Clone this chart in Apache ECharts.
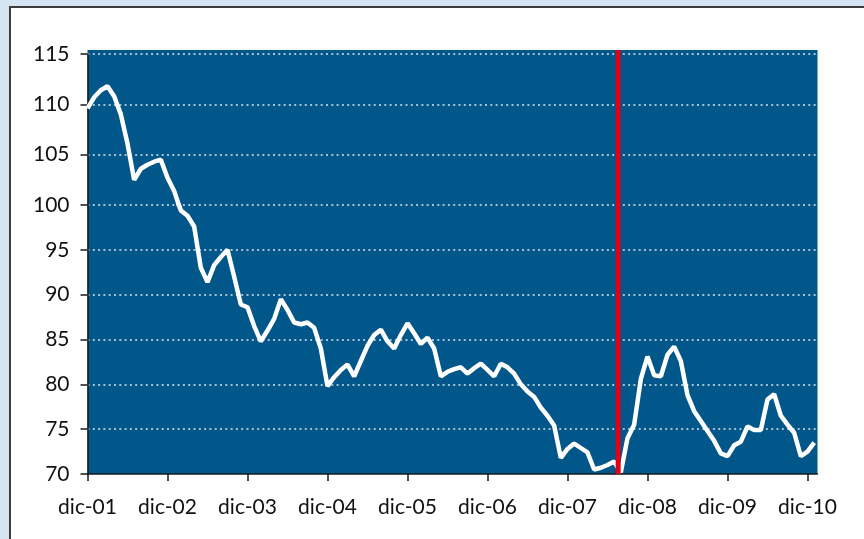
<!DOCTYPE html>
<html>
<head>
<meta charset="utf-8">
<script src="https://cdn.jsdelivr.net/npm/echarts@6/dist/echarts.min.js"></script>
<style>
  html, body { margin: 0; padding: 0; background: #d5e4f3; }
  #wrap { position: relative; width: 864px; height: 539px; overflow: hidden; }
  #panel { position: absolute; left: 9px; top: 6px; width: 900px; height: 600px;
           background: #ffffff; border-top: 2px solid #3c3c3c; border-left: 2px solid #3c3c3c; }
  #chart { position: absolute; left: 0; top: 0; width: 864px; height: 539px; }
</style>
</head>
<body>
<div id="wrap">
  <div id="panel"></div>
  <div id="chart"></div>
</div>
<script>
// Monthly index, December 2001 to January 2011
const values = [
  109.6, 110.7, 111.4, 111.8, 110.8, 109.0, 106.1, 102.5, 103.6, 104.0,
  104.3, 104.5, 102.7, 101.4, 99.4, 98.8, 97.6, 93.0, 91.4, 93.3,
  94.2, 95.0, 92.0, 88.9, 88.6, 86.5, 84.8, 86.0, 87.3, 89.5,
  88.3, 86.9, 86.7, 86.9, 86.3, 84.0, 79.8, 80.8, 81.6, 82.2,
  80.9, 82.6, 84.3, 85.5, 86.1, 84.8, 84.0, 85.5, 86.8, 85.7,
  84.5, 85.2, 84.0, 80.9, 81.4, 81.7, 81.9, 81.2, 81.8, 82.3,
  81.6, 80.9, 82.3, 81.9, 81.2, 80.0, 79.2, 78.6, 77.4, 76.5,
  75.4, 71.8, 72.8, 73.4, 72.9, 72.4, 70.5, 70.7, 71.0, 71.4,
  70.2, 74.0, 75.5, 80.6, 83.1, 81.0, 80.9, 83.3, 84.2, 82.6,
  78.8, 77.0, 75.9, 74.8, 73.7, 72.3, 72.0, 73.2, 73.6, 75.3,
  74.9, 74.9, 78.3, 78.9, 76.5, 75.5, 74.6, 72.0, 72.5, 73.5
];
// Year labels, one every twelve months
const yearLabels = ['dic-01', 'dic-02', 'dic-03', 'dic-04', 'dic-05',
                    'dic-06', 'dic-07', 'dic-08', 'dic-09', 'dic-10'];
const yearTickPos = [0, 12, 24, 36, 48, 60, 72, 84, 96, 108];
// Upper and lower value bands of the vertical scale
const upperTicks = [100, 105, 110, 115];
const lowerTicks = [70, 75, 80, 85, 90, 95, 100];
// Month position of the vertical marker
const markerMonth = 79.6;

const points = values.map((v, i) => [i, v]);

const FONT = 'Lato';
const plotBlue = '#01568a';
const xMax = 109.5;
const left = 87.5, width = 730;

const gridLine = {
  show: true,
  lineStyle: { color: 'rgba(255,255,255,0.85)', width: 1.5, type: [2, 3.3] }
};
const axisLine = { show: true, lineStyle: { color: '#1a1a1a', width: 1.5 } };
const axisTick = { show: true, inside: false, length: 7, lineStyle: { color: '#1a1a1a', width: 1.5 } };
const yLabel = { color: '#111', fontFamily: FONT, fontSize: 21, margin: 18 };

const chart = echarts.init(document.getElementById('chart'), null, { renderer: 'canvas' });
chart.setOption({
  animation: false,
  grid: [
    { left: left, top: 50, width: width, height: 424, show: true,
      backgroundColor: plotBlue, borderWidth: 0 },
    { left: left, top: 54, width: width, height: 151 },
    { left: left, top: 205, width: width, height: 269 }
  ],
  xAxis: [
    { gridIndex: 0, type: 'value', min: 0, max: xMax, show: false },
    { gridIndex: 1, type: 'value', min: 0, max: xMax, show: false },
    { gridIndex: 2, type: 'value', min: 0, max: xMax,
      axisLine: axisLine,
      axisTick: Object.assign({}, axisTick, { customValues: yearTickPos }),
      axisLabel: { color: '#111', fontFamily: FONT, fontSize: 21, margin: 23,
                   customValues: yearTickPos,
                   formatter: v => yearLabels[yearTickPos.indexOf(Math.round(v))] || '' },
      splitLine: { show: false } }
  ],
  yAxis: [
    { gridIndex: 0, type: 'value', min: 0, max: 1, show: false },
    { gridIndex: 1, type: 'value', min: upperTicks[0], max: upperTicks[upperTicks.length - 1], interval: 5,
      axisLine: axisLine, axisTick: axisTick,
      axisLabel: Object.assign({}, yLabel, { showMinLabel: false }),
      splitLine: Object.assign({}, gridLine, { showMinLine: false }) },
    { gridIndex: 2, type: 'value', min: lowerTicks[0], max: lowerTicks[lowerTicks.length - 1], interval: 5,
      axisLine: axisLine, axisTick: axisTick,
      axisLabel: yLabel,
      splitLine: Object.assign({}, gridLine, { showMinLine: false }) }
  ],
  series: [
    { type: 'line', xAxisIndex: 1, yAxisIndex: 1, data: points, showSymbol: false, symbol: 'none',
      clip: true, lineStyle: { color: '#ffffff', width: 4.5 }, z: 3 },
    { type: 'line', xAxisIndex: 2, yAxisIndex: 2, data: points, showSymbol: false, symbol: 'none',
      clip: true, lineStyle: { color: '#ffffff', width: 4.5 }, z: 3 },
    { type: 'line', xAxisIndex: 0, yAxisIndex: 0,
      data: [[markerMonth, 0], [markerMonth, 1]], showSymbol: false, symbol: 'none',
      lineStyle: { color: '#e0001b', width: 5 }, z: 5 }
  ]
});
</script>
</body>
</html>
